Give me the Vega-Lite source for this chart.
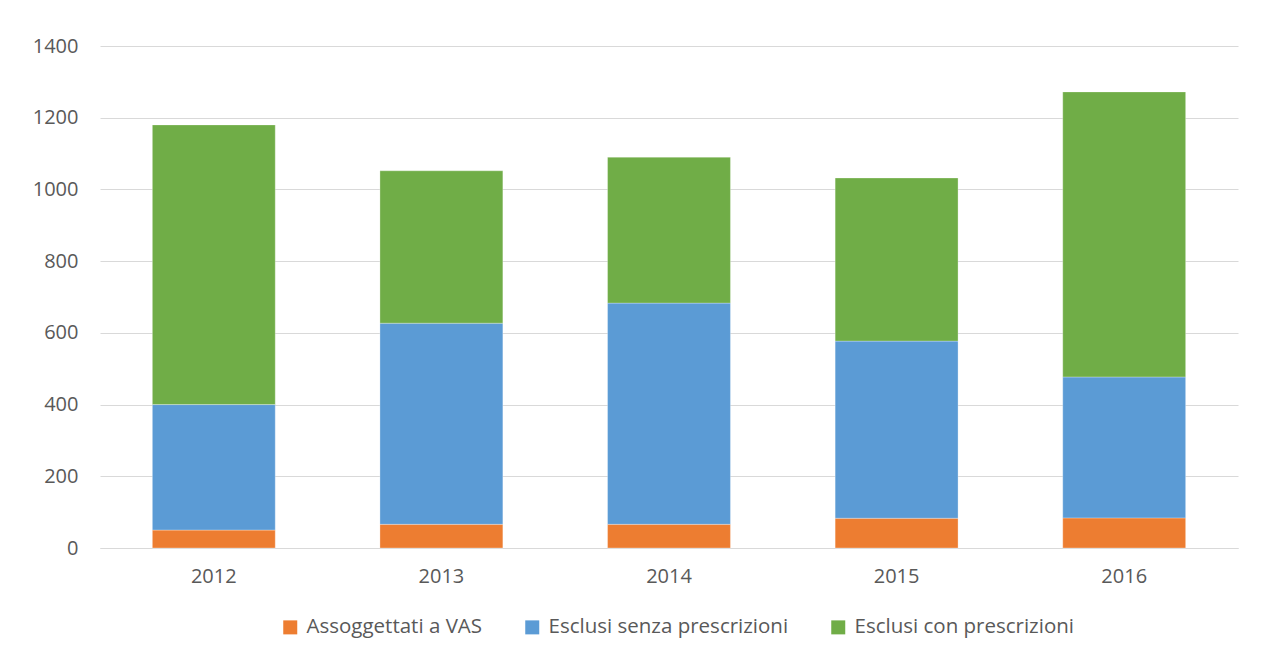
{
  "$schema": "https://vega.github.io/schema/vega-lite/v6.json",
  "width": 1138,
  "height": 502,
  "autosize": {"type": "none"},
  "padding": {"left": 100, "top": 46, "right": 41, "bottom": 113},
  "background": "white",
  "config": {
    "font": "Open Sans",
    "view": {"stroke": null},
    "axis": {"labelColor": "#595959", "labelFont": "Open Sans", "labelFontSize": 20, "title": null}
  },
  "data": {
    "values": [
      {"anno": "2012", "serie": "Assoggettati a VAS", "ordine": 1, "valore": 50},
      {"anno": "2012", "serie": "Esclusi senza prescrizioni", "ordine": 2, "valore": 350},
      {"anno": "2012", "serie": "Esclusi con prescrizioni", "ordine": 3, "valore": 780},
      {"anno": "2013", "serie": "Assoggettati a VAS", "ordine": 1, "valore": 66},
      {"anno": "2013", "serie": "Esclusi senza prescrizioni", "ordine": 2, "valore": 561},
      {"anno": "2013", "serie": "Esclusi con prescrizioni", "ordine": 3, "valore": 425},
      {"anno": "2014", "serie": "Assoggettati a VAS", "ordine": 1, "valore": 66},
      {"anno": "2014", "serie": "Esclusi senza prescrizioni", "ordine": 2, "valore": 617},
      {"anno": "2014", "serie": "Esclusi con prescrizioni", "ordine": 3, "valore": 407},
      {"anno": "2015", "serie": "Assoggettati a VAS", "ordine": 1, "valore": 83},
      {"anno": "2015", "serie": "Esclusi senza prescrizioni", "ordine": 2, "valore": 494},
      {"anno": "2015", "serie": "Esclusi con prescrizioni", "ordine": 3, "valore": 455},
      {"anno": "2016", "serie": "Assoggettati a VAS", "ordine": 1, "valore": 84},
      {"anno": "2016", "serie": "Esclusi senza prescrizioni", "ordine": 2, "valore": 393},
      {"anno": "2016", "serie": "Esclusi con prescrizioni", "ordine": 3, "valore": 795}
    ]
  },
  "mark": {"type": "bar", "stroke": "white", "strokeWidth": 0.6, "strokeOpacity": 0.5},
  "encoding": {
    "x": {
      "field": "anno",
      "type": "nominal",
      "scale": {"paddingInner": 0.46, "paddingOuter": 0.23},
      "axis": {"labelAngle": 0, "ticks": false, "domainColor": "#D9D9D9", "domainWidth": 1, "labelPadding": 18}
    },
    "y": {
      "field": "valore",
      "type": "quantitative",
      "stack": "zero",
      "scale": {"domain": [0, 1400], "nice": false},
      "axis": {"values": [0, 200, 400, 600, 800, 1000, 1200, 1400], "format": "d", "domain": false, "ticks": false, "labelPadding": 22, "gridColor": "#D9D9D9", "gridWidth": 1}
    },
    "color": {
      "field": "serie",
      "type": "nominal",
      "scale": {
        "domain": ["Assoggettati a VAS", "Esclusi senza prescrizioni", "Esclusi con prescrizioni"],
        "range": ["#ED7D31", "#5B9BD5", "#70AD47"]
      },
      "legend": {
        "orient": "none",
        "legendX": 180,
        "legendY": 571,
        "direction": "horizontal",
        "title": null,
        "symbolType": "square",
        "symbolSize": 196,
        "symbolStrokeWidth": 0,
        "labelFontSize": 20.5,
        "labelColor": "#595959",
        "labelFont": "Open Sans",
        "labelLimit": 400,
        "labelOffset": 6,
        "columnPadding": 39
      }
    },
    "order": {"field": "ordine", "type": "quantitative"}
  }
}
